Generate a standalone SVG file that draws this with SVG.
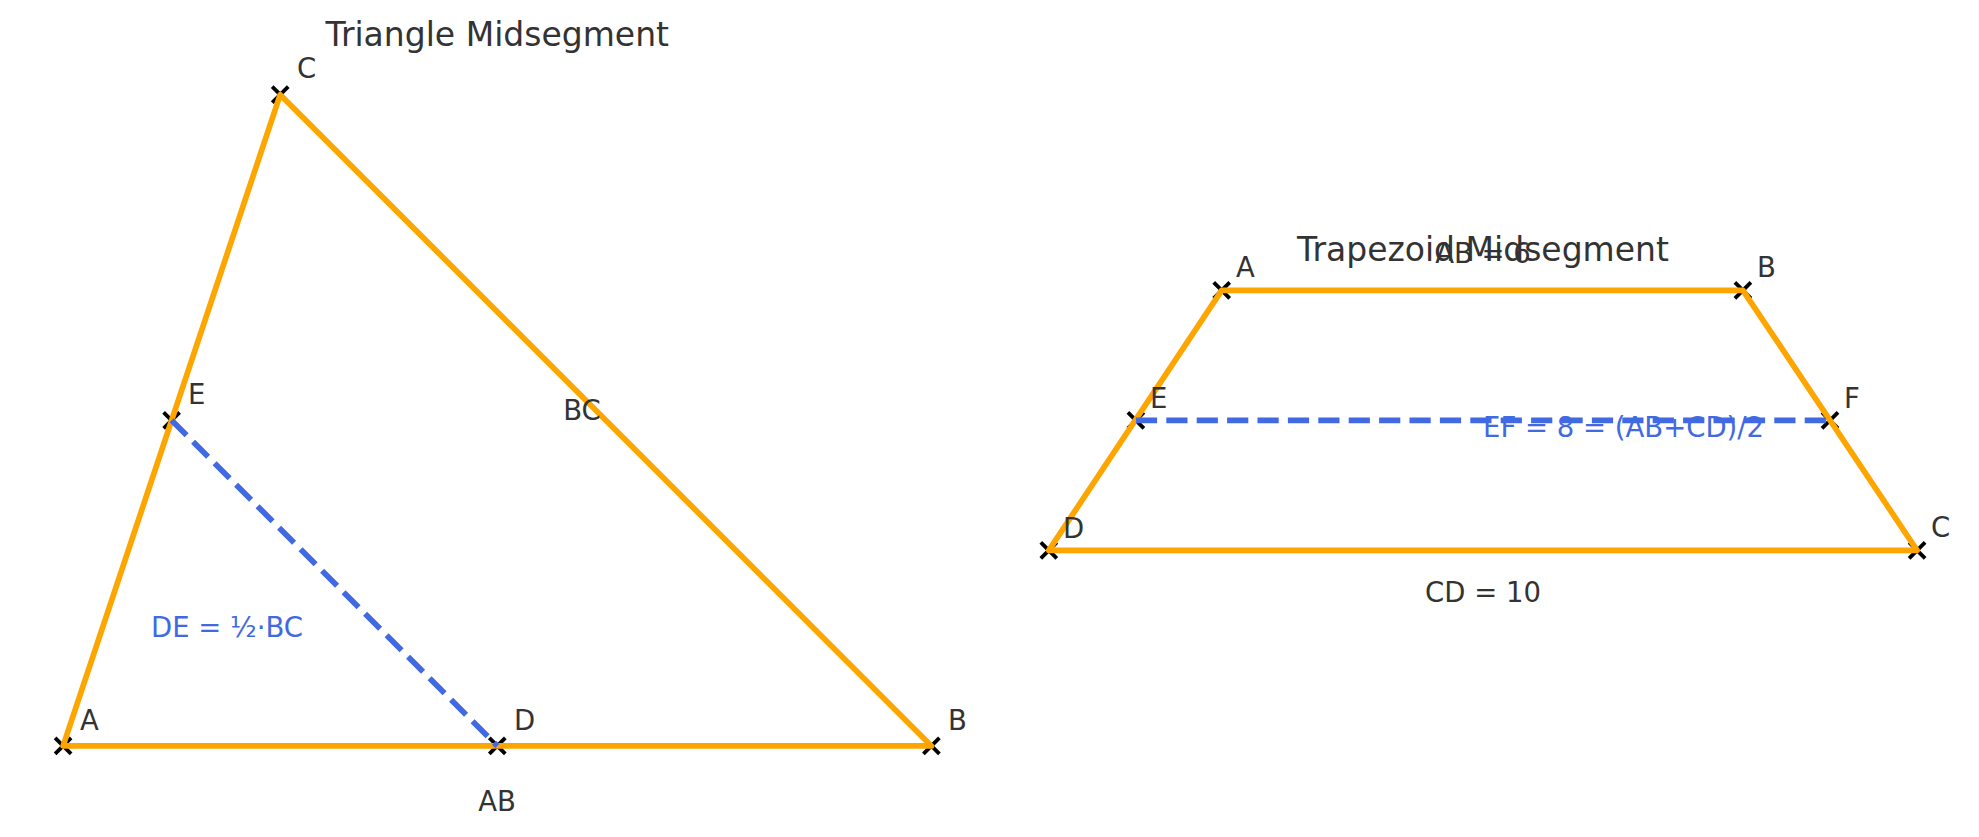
<svg xmlns="http://www.w3.org/2000/svg" width="1979" height="837" viewBox="0 0 1979 837">
<defs>
<style>
text{font-family:"DejaVu Sans",sans-serif;}
.title{font-size:33px;fill:#333333;text-anchor:middle;}
.lbl{font-size:27.5px;fill:#333333;}
.mid{text-anchor:middle;}
.blue{fill:#4169E1;}
.edge{stroke:#FFA500;stroke-width:5.7;fill:none;stroke-linejoin:round;}
.mseg{stroke:#4169E1;stroke-width:5.7;fill:none;stroke-dasharray:21.2 9.2;}
.mk{stroke:#000;stroke-width:3.8;fill:none;}
</style>
<path id="x" class="mk" d="M-8,-8L8,8M-8,8L8,-8"/>
</defs>
<rect width="1979" height="837" fill="#fff"/>

<text class="title" x="497.3" y="46">Triangle Midsegment</text>
<text class="title" x="1483" y="261">Trapezoid Midsegment</text>

<g id="markers">
<use href="#x" x="63.1" y="745.9"/>
<use href="#x" x="931.4" y="745.9"/>
<use href="#x" x="280.2" y="94.7"/>
<use href="#x" x="497.3" y="745.9"/>
<use href="#x" x="171.6" y="420.3"/>
<use href="#x" x="1221.7" y="290.3"/>
<use href="#x" x="1742.9" y="290.3"/>
<use href="#x" x="1917.1" y="550.3"/>
<use href="#x" x="1048.8" y="550.3"/>
<use href="#x" x="1135.9" y="420.3"/>
<use href="#x" x="1830" y="420.3"/>
</g>

<g id="connectors">
<path class="edge" d="M63.1,745.9L931.4,745.9L280.2,94.7Z"/>
<path class="mseg" d="M171.6,420.3L497.3,745.9"/>
<path class="edge" d="M1221.7,290.3L1742.9,290.3L1917.1,550.3L1048.8,550.3Z"/>
<path class="mseg" d="M1135.9,420.3L1830,420.3"/>
</g>

<g id="tri-A"><text class="lbl" x="80" y="730">A</text></g>
<g id="tri-B"><text class="lbl" x="948" y="730">B</text></g>
<g id="tri-C"><text class="lbl" x="297" y="78">C</text></g>
<g id="tri-D"><text class="lbl" x="514" y="730">D</text></g>
<g id="tri-E"><text class="lbl" x="188" y="404">E</text></g>
<g id="tri-labels">
<text class="lbl mid" x="582" y="420">BC</text>
<text class="lbl mid" x="497" y="811">AB</text>
<text class="lbl mid blue" x="227" y="637">DE = ½·BC</text>
</g>

<g id="trap-A"><text class="lbl" x="1236" y="277">A</text></g>
<g id="trap-B"><text class="lbl" x="1757" y="277">B</text></g>
<g id="trap-C"><text class="lbl" x="1931" y="537">C</text></g>
<g id="trap-D"><text class="lbl" x="1063" y="538">D</text></g>
<g id="trap-E"><text class="lbl" x="1150" y="408">E</text></g>
<g id="trap-F"><text class="lbl" x="1844" y="408">F</text></g>
<g id="trap-labels">
<text class="lbl mid" x="1483" y="263">AB = 6</text>
<text class="lbl mid" x="1483" y="602">CD = 10</text>
<text class="lbl blue" x="1483" y="437">EF = 8 = (AB+CD)/2</text>
</g>
</svg>
